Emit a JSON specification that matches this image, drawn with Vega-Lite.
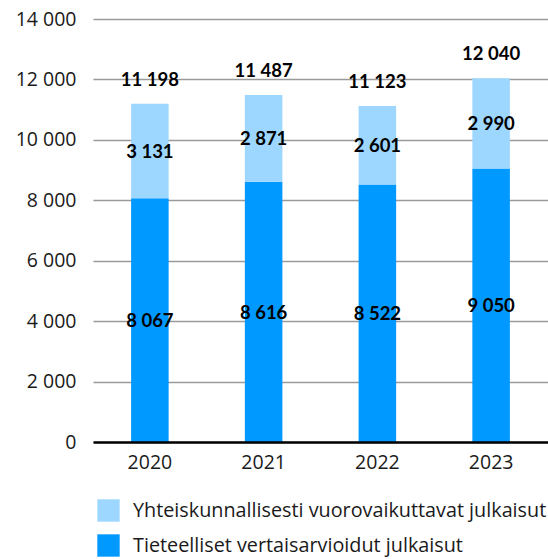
{
  "$schema": "https://vega.github.io/schema/vega-lite/v6.json",
  "width": 455,
  "height": 423,
  "autosize": {"type": "none"},
  "padding": {"left": 93, "top": 19, "right": 0, "bottom": 117},
  "background": "white",
  "config": {
    "locale": {"number": {"decimal": ",", "thousands": " ", "grouping": [3], "currency": ["", " €"]}},
    "view": {"stroke": null},
    "font": "Open Sans"
  },
  "data": {
    "values": [
      {"year": "2020", "series": "Tieteelliset vertaisarvioidut julkaisut", "ord": 1, "value": 8067},
      {"year": "2020", "series": "Yhteiskunnallisesti vuorovaikuttavat julkaisut", "ord": 2, "value": 3131},
      {"year": "2021", "series": "Tieteelliset vertaisarvioidut julkaisut", "ord": 1, "value": 8616},
      {"year": "2021", "series": "Yhteiskunnallisesti vuorovaikuttavat julkaisut", "ord": 2, "value": 2871},
      {"year": "2022", "series": "Tieteelliset vertaisarvioidut julkaisut", "ord": 1, "value": 8522},
      {"year": "2022", "series": "Yhteiskunnallisesti vuorovaikuttavat julkaisut", "ord": 2, "value": 2601},
      {"year": "2023", "series": "Tieteelliset vertaisarvioidut julkaisut", "ord": 1, "value": 9050},
      {"year": "2023", "series": "Yhteiskunnallisesti vuorovaikuttavat julkaisut", "ord": 2, "value": 2990}
    ]
  },
  "encoding": {
    "x": {
      "field": "year", "type": "nominal",
      "scale": {"paddingInner": 0.67, "paddingOuter": 0.335},
      "axis": {
        "title": null, "labelAngle": 0, "ticks": false,
        "domainColor": "#000000", "domainWidth": 2.5,
        "labelFontSize": 19.5, "labelColor": "#1a1a1a", "labelPadding": 11,
        "labelFont": "Open Sans", "zindex": 1
      }
    }
  },
  "layer": [
    {
      "mark": {"type": "bar"},
      "encoding": {
        "y": {
          "field": "value", "type": "quantitative", "stack": "zero",
          "scale": {"domain": [0, 14000]},
          "axis": {
            "title": null, "domain": false, "ticks": false,
            "values": [0, 2000, 4000, 6000, 8000, 10000, 12000, 14000],
            "format": ",d", "grid": true, "gridColor": "#9a9a9a", "gridWidth": 1.3,
            "labelFontSize": 19.5, "labelColor": "#1a1a1a", "labelPadding": 17,
            "labelFont": "Open Sans"
          }
        },
        "color": {
          "field": "series", "type": "nominal",
          "scale": {
            "domain": ["Yhteiskunnallisesti vuorovaikuttavat julkaisut", "Tieteelliset vertaisarvioidut julkaisut"],
            "range": ["#9dd7ff", "#0099ff"]
          },
          "legend": {
            "title": null, "orient": "none", "legendX": 4, "legendY": 480,
            "symbolType": "square", "symbolSize": 500, "symbolStrokeWidth": 0,
            "labelFontSize": 19.8, "labelColor": "#1a1a1a", "labelOffset": 13,
            "rowPadding": 12, "labelLimit": 500, "labelFont": "Open Sans"
          }
        },
        "order": {"field": "ord", "type": "quantitative"}
      }
    },
    {
      "mark": {"type": "text", "fontWeight": "bold", "fontSize": 18.5, "font": "Lato", "color": "#000000", "baseline": "middle", "dy": 1},
      "encoding": {
        "y": {"field": "value", "type": "quantitative", "stack": "zero", "bandPosition": 0.5},
        "text": {"field": "value", "type": "quantitative", "format": ",d"},
        "order": {"field": "ord", "type": "quantitative"},
        "detail": {"field": "series"}
      }
    },
    {
      "mark": {"type": "text", "fontWeight": "bold", "fontSize": 18.5, "font": "Lato", "color": "#000000", "baseline": "middle", "dy": -24},
      "encoding": {
        "y": {"aggregate": "sum", "field": "value", "type": "quantitative"},
        "text": {"aggregate": "sum", "field": "value", "type": "quantitative", "format": ",d"}
      }
    }
  ]
}
